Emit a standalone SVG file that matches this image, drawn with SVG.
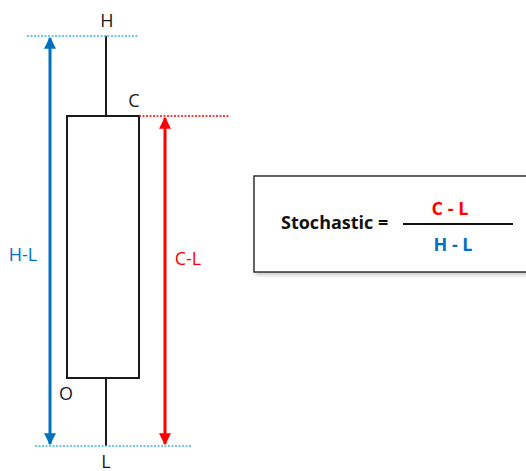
<svg xmlns="http://www.w3.org/2000/svg" width="526" height="471" viewBox="0 0 526 471">
<style>
.lbl{font-family:"Open Sans","Liberation Sans",sans-serif;font-size:18px;fill:#1a1a1a}
.big{font-size:18px}
.blk{stroke:#1a1a1a;stroke-width:2;fill:none}
.dot{stroke-width:1.5;stroke-dasharray:2 1.5;fill:none}
.f{font-family:"Open Sans","Liberation Sans",sans-serif;font-weight:bold;font-size:18px}
</style>
<defs>
<marker id="ab" viewBox="0 0 10 10" refX="9" refY="5" markerWidth="4" markerHeight="4" orient="auto-start-reverse"><path d="M0,0 L10,5 L0,10 z" fill="#0070C0"/></marker>
<marker id="ar" viewBox="0 0 10 10" refX="9" refY="5" markerWidth="4" markerHeight="4" orient="auto-start-reverse"><path d="M0,0 L10,5 L0,10 z" fill="#FF0000"/></marker>
<filter id="sh" x="-5%" y="-5%" width="115%" height="120%"><feDropShadow dx="2" dy="2" stdDeviation="2" flood-color="#000" flood-opacity="0.25"/></filter>
</defs>
<rect width="526" height="471" fill="#fff"/>
<g id="candle">
<line class="blk" x1="106" y1="36" x2="106" y2="116"/>
<line class="blk" x1="106" y1="378" x2="106" y2="446"/>
<rect class="blk" x="67" y="116" width="72" height="262" fill="#fff"/>
<text class="lbl" x="107" y="27" text-anchor="middle">H</text>
<text class="lbl" x="134" y="107" text-anchor="middle">C</text>
<text class="lbl" x="66" y="400" text-anchor="middle">O</text>
<text class="lbl" x="106" y="468" text-anchor="middle">L</text>
</g>
<g id="guides">
<line class="dot" stroke="#3CB4E8" x1="27" y1="36" x2="138" y2="36"/>
<line class="dot" stroke="#FF0000" x1="139" y1="116" x2="230" y2="116"/>
<line class="dot" stroke="#3CB4E8" x1="35" y1="446" x2="192" y2="446"/>
</g>
<g id="connectors">
<line stroke="#0070C0" stroke-width="3" x1="50" y1="38" x2="50" y2="444" marker-start="url(#ab)" marker-end="url(#ab)"/>
<line stroke="#FF0000" stroke-width="3" x1="165" y1="118" x2="165" y2="444" marker-start="url(#ar)" marker-end="url(#ar)"/>
</g>
<g id="hl-label"><text class="lbl big" x="23" y="261" text-anchor="middle" style="fill:#0070C0">H-L</text></g>
<g id="cl-label"><text class="lbl big" x="188" y="265" text-anchor="middle" style="fill:#FF0000">C-L</text></g>
<g id="formula">
<rect x="254" y="176" width="280" height="96" fill="#fff" stroke="#333" stroke-width="1.5" filter="url(#sh)"/>
<text class="f" x="281" y="229" fill="#111">Stochastic =</text>
<line x1="403" y1="224" x2="513" y2="224" stroke="#111" stroke-width="2"/>
<text class="f" x="450" y="215" text-anchor="middle" fill="#FF0000">C - L</text>
<text class="f" x="453" y="251" text-anchor="middle" fill="#0070C0">H - L</text>
</g>
</svg>
